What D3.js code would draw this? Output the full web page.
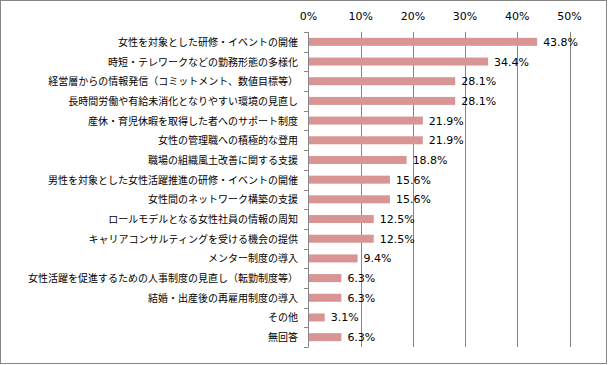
<!DOCTYPE html>
<html><head><meta charset="utf-8">
<script src="https://cdn.jsdelivr.net/npm/d3@7"></script>
<style>body{margin:0;background:#fff}</style>
</head><body>
<svg id="c" width="608" height="365"></svg>
<script>
const categories = [
  "女性を対象とした研修・イベントの開催",
  "時短・テレワークなどの勤務形態の多様化",
  "経営層からの情報発信（コミットメント、数値目標等）",
  "長時間労働や有給未消化となりやすい環境の見直し",
  "産休・育児休暇を取得した者へのサポート制度",
  "女性の管理職への積極的な登用",
  "職場の組織風土改善に関する支援",
  "男性を対象とした女性活躍推進の研修・イベントの開催",
  "女性間のネットワーク構築の支援",
  "ロールモデルとなる女性社員の情報の周知",
  "キャリアコンサルティングを受ける機会の提供",
  "メンター制度の導入",
  "女性活躍を促進するための人事制度の見直し（転勤制度等）",
  "結婚・出産後の再雇用制度の導入",
  "その他",
  "無回答"
];
const values = [43.8, 34.4, 28.1, 28.1, 21.9, 21.9, 18.8, 15.6, 15.6, 12.5, 12.5, 9.4, 6.3, 6.3, 3.1, 6.3];
const tickValues = [0, 10, 20, 30, 40, 50];

const svg = d3.select("#c");
svg.append("rect").attr("x",0.5).attr("y",0.5).attr("width",606).attr("height",363)
  .attr("fill","#fff").attr("stroke","#868686");

const x = d3.scaleLinear().domain([0,50]).range([308.5,569.5]);
const y = d3.scaleBand().domain(categories).range([32,347]).paddingInner(0).paddingOuter(0);

// gridlines
svg.append("g").selectAll("line").data(tickValues.slice(1)).join("line")
  .attr("x1",d=>Math.round(x(d))+0.5).attr("x2",d=>Math.round(x(d))+0.5)
  .attr("y1",32).attr("y2",347).attr("stroke","#868686").attr("stroke-width",1);

// top tick labels
svg.append("g").selectAll("text").data(tickValues).join("text")
  .attr("x",d=>x(d)).attr("y",20).attr("text-anchor","middle")
  .attr("font-family","DejaVu Sans, sans-serif").attr("font-size",11).attr("fill","#000")
  .text(d=>d+"%");

// bars
const bh = 8;
svg.append("g").selectAll("rect").data(values).join("rect")
  .attr("x",x(0)).attr("y",(d,i)=>y(categories[i])+y.bandwidth()/2-bh/2)
  .attr("width",d=>x(d)-x(0)).attr("height",bh).attr("fill","#D99594");

// value labels
svg.append("g").selectAll("text").data(values).join("text")
  .attr("x",d=>x(d)+6).attr("y",(d,i)=>y(categories[i])+y.bandwidth()/2+4)
  .attr("font-family","DejaVu Sans, sans-serif").attr("font-size",11).attr("fill","#000")
  .text(d=>d.toFixed(1)+"%");

// left axis
const ax = d3.axisLeft(y).tickSize(0).tickFormat("");
const g = svg.append("g");
g.append("line").attr("x1",308.5).attr("x2",308.5).attr("y1",32).attr("y2",347).attr("stroke","#868686");
const edges = d3.range(categories.length+1).map(i=>32+i*y.step());
g.selectAll("line.t").data(edges).join("line").attr("class","t")
  .attr("x1",304).attr("x2",308.5).attr("y1",d=>Math.round(d)+0.5).attr("y2",d=>Math.round(d)+0.5)
  .attr("stroke","#868686");

// category labels
svg.append("g").selectAll("text").data(categories).join("text")
  .attr("x",298).attr("y",d=>y(d)+y.bandwidth()/2+4)
  .attr("text-anchor","end")
  .attr("font-family","'Noto Sans CJK JP', sans-serif").attr("font-size",10).attr("fill","#000")
  .text(d=>d);
</script>
</body></html>
